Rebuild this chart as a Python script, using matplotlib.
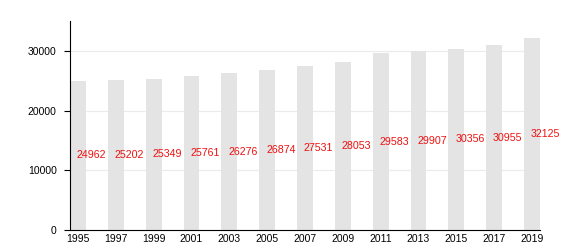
import matplotlib.pyplot as plt
import numpy as np

plt.rcParams['font.family'] = ['Liberation Sans', 'DejaVu Sans']

years = ['1995', '1997', '1999', '2001', '2003', '2005', '2007',
         '2009', '2011', '2013', '2015', '2017', '2019']
values = [24962, 25202, 25349, 25761, 26276, 26874, 27531,
          28053, 29583, 29907, 30356, 30955, 32125]

x = np.arange(len(years))

fig = plt.figure(figsize=(5.8, 2.5), dpi=100)
ax = fig.add_axes([0.1207, 0.08, 0.8103, 0.836])

ax.bar(x, values, width=0.42, color='#e4e4e4', zorder=2)
for xi, v in zip(x, values):
    ax.text(xi - 0.03, v / 2, str(v), color='#ee1111', fontsize=7.7,
            ha='left', va='center', zorder=3)

ax.set_xlim(-0.21, 12.21)
ax.set_ylim(0, 35000)
ax.set_yticks([0, 10000, 20000, 30000])
ax.set_xticks(x)
ax.set_xticklabels(years)
ax.yaxis.grid(True, color='#ebebeb', linewidth=0.8, zorder=0)
ax.tick_params(axis='x', length=0, labelsize=7.5, pad=3)
ax.tick_params(axis='y', length=4.5, labelsize=7.5, pad=5)
ax.spines['top'].set_visible(False)
ax.spines['right'].set_visible(False)

fig.savefig('out.png', dpi=100)
